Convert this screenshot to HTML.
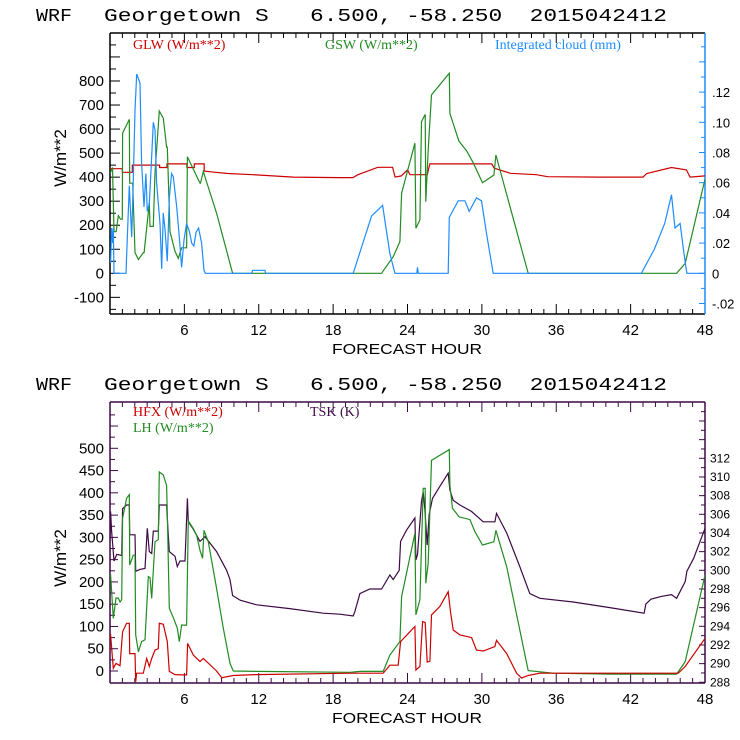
<!DOCTYPE html>
<html><head><meta charset="utf-8"><style>
html,body{margin:0;padding:0;background:#fff;}
svg{display:block;font-family:"Liberation Sans",sans-serif;}
.t{font-family:"Liberation Sans",sans-serif;fill:#000;}
.tt{font-family:"Liberation Mono",monospace;fill:#000;white-space:pre;}
.lg{font-family:"Liberation Serif",serif;font-size:14px;}
</style></head><body>
<svg id="chart" width="740" height="740" viewBox="0 0 740 740" xmlns="http://www.w3.org/2000/svg">
<g id="top"></g>
<g id="bot"></g>
</svg>
<script>
// ---- data (forecast hour / values) ----
const xTicks=[6,12,18,24,30,36,42,48];
const glwHours=[0,1.0,1.0,1.8,1.8,4.0,4.0,4.6,4.6,6.2,6.2,6.8,6.8,7.6,7.6,8.5,9.5,11.5,14.8,18.5,19.6,20.0,21.6,22.8,23.0,23.5,24.0,24.2,25.6,25.8,30.8,31.0,32.3,34.4,35.3,39.5,43.0,43.3,45.3,46.5,46.8,48];
const glwValues=[435,435,420,420,450,450,440,440,455,455,440,440,455,455,425,420,415,410,400,398,398,410,441,441,400,405,430,410,410,455,455,437,416,410,402,400,400,415,440,430,400,405];
const gswHours=[0,0.05,0.2,0.32,0.5,0.67,0.85,0.99,1.02,1.56,1.59,1.83,2.02,2.29,2.69,2.75,3.17,3.23,3.49,3.63,3.98,4.3,4.57,4.62,4.84,5.24,5.51,5.78,6.18,6.24,7.26,7.3,7.53,8.6,9.89,21.9,22.85,23.39,23.52,24.6,24.68,25.0,25.13,25.43,25.48,25.67,25.94,27.37,27.42,28.15,28.76,29.3,30.05,30.97,31.13,33.74,45.71,46.4,48];
const gswValues=[420,420,440,173,173,240,225,225,583,640,375,375,86,57,86,86,292,195,195,417,675,645,525,525,173,92,62,106,106,485,375,375,423,250,0,0,69,132,333,541,187,222,631,661,298,513,742,832,665,550,510,460,377,409,492,0,0,41,392];
const cloudHours=[0,0.05,0.13,0.22,0.27,0.32,1.29,1.34,1.56,1.75,1.88,2.02,2.15,2.42,2.55,2.74,2.9,3.01,3.17,3.31,3.49,3.63,3.76,4.03,4.17,4.3,4.44,4.62,4.78,4.97,5.11,5.38,5.59,5.78,5.97,6.18,6.4,6.59,6.77,6.94,7.15,7.39,7.58,7.69,11.43,11.5,11.56,12.5,12.55,19.62,21.1,21.99,22.58,22.98,24.75,24.81,24.87,27.28,27.37,28.09,28.63,28.98,29.57,29.97,30.38,30.91,42.87,43.92,44.75,45.3,45.58,45.99,46.4,46.54,48];
const cloudValues=[0.01,0.007,0.03,0.02,0.03,0,0,0.011,0.058,0.024,0.062,0.108,0.132,0.126,0.073,0.044,0.066,0.041,0.046,0.068,0.1,0.095,0.06,0.033,0.003,0.04,0.029,0.008,0.05,0.066,0.064,0.044,0.024,0.004,0.022,0.033,0.028,0.02,0.018,0.027,0.03,0.02,0.002,0,0,0.002,0.002,0.002,0,0,0.038,0.045,0.013,0,0,0.004,0,0,0.037,0.048,0.048,0.041,0.05,0.048,0.026,0,0,0.016,0.033,0.052,0.03,0.033,0.007,0,0];
const hfxHours=[0,0.05,0.27,0.48,0.81,1.02,1.34,1.56,1.59,2.02,2.07,2.15,2.69,2.96,3.17,3.36,3.63,3.9,3.98,4.3,4.62,4.78,5.24,6.18,6.26,6.72,7.26,7.53,8.6,9.01,9.95,11.83,19.35,22.04,22.58,23.25,23.44,24.6,24.68,25.0,25.22,25.43,25.59,25.81,25.94,26.61,27.28,27.47,27.69,28.23,29.17,29.57,30.11,31.05,31.18,32.0,32.8,33.2,33.74,34.68,40.32,45.85,46.4,48];
const hfxValues=[80,81,6,17,12,88,107,107,39,39,-24,-5,-5,28,10,28,47,50,107,105,66,-1,-8,-9,62,36,21,28,0,-15,-10,-8,-5,-5,13,13,66,100,2,10,111,109,20,22,126,145,178,133,92,81,75,47,45,55,69,39,-5,-16,-10,-5,-5,-5,10,73];
const lhHours=[0,0.05,0.27,0.48,0.67,0.81,0.94,1.02,1.34,1.56,1.59,1.88,2.02,2.07,2.29,2.55,2.82,3.09,3.23,3.36,3.63,3.9,3.98,4.3,4.57,4.62,4.78,5.11,5.43,5.59,5.78,6.18,6.32,6.72,6.99,7.26,7.47,7.58,7.93,8.6,9.14,9.68,9.95,11.83,19.35,20.16,22.04,22.58,23.39,23.52,24.6,24.68,25.0,25.27,25.43,25.48,25.67,25.94,27.37,27.42,27.63,28.17,29.03,29.44,30.05,30.97,31.13,32.0,33.06,33.74,35.75,40.32,45.71,46.4,48];
const lhValues=[216,216,118,164,164,155,160,343,388,396,238,260,260,81,43,66,70,212,210,163,290,295,447,440,417,354,141,120,96,66,103,103,337,320,305,271,253,316,290,185,96,17,0,-1,-3,-1,-1,36,66,167,309,126,160,410,410,197,242,473,497,417,365,346,340,313,283,290,316,234,92,1,-5,-7,-7,21,215];
const tskHours=[0,0.05,0.13,0.32,0.54,0.94,1.02,1.34,1.56,1.59,2.02,2.07,2.42,2.82,3.01,3.17,3.36,3.49,3.9,3.98,4.57,4.62,4.78,5.24,5.43,5.65,6.05,6.24,6.32,6.72,7.26,7.66,8.6,9.41,9.68,9.89,10.5,11.83,14.5,17.2,18.55,19.62,19.76,20.16,20.97,21.91,21.96,22.58,22.85,23.33,23.44,23.92,24.6,24.68,24.81,25.13,25.27,25.4,25.59,25.75,26.02,26.61,27.28,27.42,27.69,28.23,29.17,30.11,31.05,31.18,32.0,33.06,33.87,34.68,37.37,40.32,43.09,43.23,43.64,44.47,45.3,45.71,46.4,46.54,47.09,48];
const tskValues=[303,306.3,304.2,301.0,301.7,301.6,306.6,307.0,307.0,303.8,303.8,299.9,300.1,300.2,304.5,302.0,301.8,304.2,304.2,307.0,307.0,305.6,302.0,301.5,300.4,301.0,301.0,307.7,305.2,304.4,303.1,303.6,302.0,300.0,299.0,297.3,296.8,296.3,295.9,295.4,295.3,295.1,295.6,297.5,298.0,298.0,298.1,299.5,299.0,300.0,303.1,304.3,305.6,301.1,301.7,307.4,308.4,306.5,302.7,306.0,307.7,309.0,310.4,308.6,307.5,307.0,306.3,305.2,305.2,306.1,304.0,300.4,297.5,297.0,296.6,296.0,295.4,296.4,296.9,297.2,297.4,297.0,298.8,299.9,301.3,304.5];
const topLeftTicks=[-100,0,100,200,300,400,500,600,700,800];
const topRightTicks=[-0.02,0,0.02,0.04,0.06,0.08,0.10,0.12];
const topRightLabels=["-.02","0",".02",".04",".06",".08",".10",".12"];
const botLeftTicks=[0,50,100,150,200,250,300,350,400,450,500];
const botRightTicks=[288,290,292,294,296,298,300,302,304,306,308,310,312];

// ---- scales ----
const XL=110,XR=705;
const X=h=>XL+h*(XR-XL)/48;
const Y1=v=>273.3-v*0.2404;
const YC=c=>273.3-c*1510;
const Y2=v=>671-v*0.4454;
const YT=t=>682.3-(t-288)*9.333;

const NS="http://www.w3.org/2000/svg";
function mk(parent,tag,attrs,text){const e=document.createElementNS(NS,tag);for(const k in attrs)e.setAttribute(k,attrs[k]);if(text!==undefined)e.textContent=text;parent.appendChild(e);return e;}
function series(parent,hours,vals,ys,color,name,clip){
  const n=Math.min(hours.length,vals.length);let d="";
  for(let i=0;i<n;i++)d+=(i?"L":"M")+X(hours[i]).toFixed(1)+","+ys(vals[i]).toFixed(1);
  const p=mk(parent,"path",{d:d,fill:"none",stroke:color,"stroke-width":1.2,"clip-path":"url(#"+clip+")"});
  
  
}
const svg=document.getElementById('chart');
const defs=mk(svg,"defs",{});
const c1=mk(defs,"clipPath",{id:"c1"});mk(c1,"rect",{x:XL,y:33,width:XR-XL,height:281});
const c2=mk(defs,"clipPath",{id:"c2"});mk(c2,"rect",{x:XL,y:402,width:XR-XL,height:281});

function panel(g,top,bot,axisCol,rightCol,title,ty){
  const t=mk(g,"text",{x:36,y:ty,"font-size":18,class:"tt",textLength:36,lengthAdjust:"spacingAndGlyphs"},"WRF");
  
  const t2=mk(g,"text",{x:104,y:ty,"font-size":18,class:"tt",textLength:563,lengthAdjust:"spacingAndGlyphs"},title);
  
  mk(g,"line",{x1:XL,y1:top,x2:XR,y2:top,stroke:axisCol,"stroke-width":1.5});
  mk(g,"line",{x1:XL,y1:bot,x2:XR,y2:bot,stroke:axisCol,"stroke-width":1.5});
  mk(g,"line",{x1:XL,y1:top,x2:XL,y2:bot,stroke:axisCol,"stroke-width":1.5});
  mk(g,"line",{x1:XR,y1:top,x2:XR,y2:bot,stroke:rightCol,"stroke-width":1.5});
  for(let h=1;h<48;h++){
    const maj=h%6==0;
    mk(g,"line",{x1:X(h),y1:bot,x2:X(h),y2:bot-(maj?10:5),stroke:axisCol});
    mk(g,"line",{x1:X(h),y1:top,x2:X(h),y2:top+(maj?10:5),stroke:axisCol});
  }
  xTicks.forEach(h=>{const e=mk(g,"text",{x:X(h),y:bot+21,"font-size":15,"text-anchor":"middle",class:"t"},String(h));
    });
  const xl=mk(g,"text",{x:407,y:bot+40,"font-size":15,"text-anchor":"middle",class:"t",textLength:150,lengthAdjust:"spacingAndGlyphs"},"FORECAST HOUR");
  
}
const gt=document.getElementById('top');
panel(gt,33,314,"#000","#1e8cff","Georgetown S   6.500, -58.250  2015042412",21);
for(let v=-150;v<=1000;v+=50){const y=Y1(v);if(y<34||y>313)continue;mk(gt,"line",{x1:XL,y1:y,x2:XL+(v%100==0?10:6),y2:y,stroke:"#000"});}
topLeftTicks.forEach(v=>{const e=mk(gt,"text",{x:104,y:Y1(v)+5,"font-size":15,"text-anchor":"end",class:"t"},String(v));
  });
for(let c=-0.02;c<=0.16;c+=0.01){const y=YC(c);if(y<34||y>313)continue;mk(gt,"line",{x1:XR,y1:y,x2:XR-(Math.round(c*100)%2==0?6:4),y2:y,stroke:"#1e8cff"});}
topRightTicks.forEach((c,i)=>{const e=mk(gt,"text",{x:712,y:YC(c)+5,"font-size":13,class:"t"},topRightLabels[i]);
  });
let yl=mk(gt,"text",{x:0,y:0,"font-size":17,"text-anchor":"middle",class:"t",transform:"translate(66,158) rotate(-90)"},"W/m**2");

series(gt,glwHours,glwValues,Y1,"#cc0000","glw-line","c1");
series(gt,gswHours,gswValues,Y1,"#228b22","gsw-line","c1");
series(gt,cloudHours,cloudValues,YC,"#1e8cff","cloud-line","c1");
let l=mk(gt,"text",{x:133,y:49,fill:"#cc0000",class:"lg"},"GLW (W/m**2)");
l=mk(gt,"text",{x:325,y:49,fill:"#228b22",class:"lg"},"GSW (W/m**2)");
l=mk(gt,"text",{x:495,y:49,fill:"#1e8cff",class:"lg"},"Integrated cloud (mm)");

const gb=document.getElementById('bot');
const PUR="#3d0a45";
panel(gb,402,683,PUR,PUR,"Georgetown S   6.500, -58.250  2015042412",390);
for(let v=-25;v<=575;v+=25){const y=Y2(v);if(y<403||y>682)continue;mk(gb,"line",{x1:XL,y1:y,x2:XL+(v%50==0?8:5),y2:y,stroke:PUR});}
botLeftTicks.forEach(v=>{const e=mk(gb,"text",{x:104,y:Y2(v)+5,"font-size":15,"text-anchor":"end",class:"t"},String(v));
  });
for(let t=288;t<=318;t+=1){const y=YT(t);if(y<403||y>683)continue;mk(gb,"line",{x1:XR,y1:y,x2:XR-(t%2==0?6:4),y2:y,stroke:PUR});}
botRightTicks.forEach(t=>{const e=mk(gb,"text",{x:710,y:YT(t)+4,"font-size":12,class:"t"},String(t));
  });
yl=mk(gb,"text",{x:0,y:0,"font-size":17,"text-anchor":"middle",class:"t",transform:"translate(66,558) rotate(-90)"},"W/m**2");

series(gb,tskHours,tskValues,YT,PUR,"tsk-line","c2");
series(gb,lhHours,lhValues,Y2,"#228b22","lh-line","c2");
series(gb,hfxHours,hfxValues,Y2,"#cc0000","hfx-line","c2");
l=mk(gb,"text",{x:133,y:416,fill:"#cc0000",class:"lg"},"HFX (W/m**2)");
l=mk(gb,"text",{x:133,y:432,fill:"#228b22",class:"lg"},"LH  (W/m**2)");
l=mk(gb,"text",{x:310,y:416,fill:PUR,class:"lg"},"TSK (K)");
</script>
</body></html>
